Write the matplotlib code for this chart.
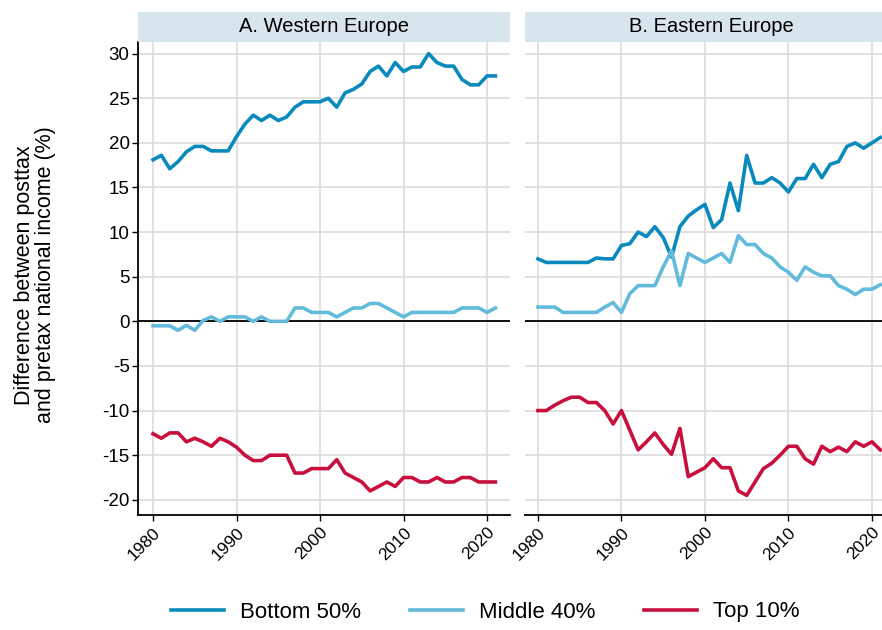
import matplotlib.pyplot as plt
import numpy as np

years = list(range(1980, 2022))

west_bottom50 = [18.1, 18.6, 17.1, 17.9, 19.0, 19.6, 19.6, 19.1, 19.1, 19.1,
                 20.7, 22.1, 23.1, 22.5, 23.1, 22.5, 22.9, 24.0, 24.6, 24.6,
                 24.6, 25.0, 24.0, 25.6, 26.0, 26.6, 28.0, 28.6, 27.5, 29.0,
                 28.0, 28.5, 28.5, 30.0, 29.0, 28.6, 28.6, 27.1, 26.5, 26.5,
                 27.5, 27.5]
west_middle40 = [-0.5, -0.5, -0.5, -1.0, -0.45, -1.0, 0.1, 0.5, 0.0, 0.5,
                 0.5, 0.5, 0.0, 0.5, 0.0, 0.0, 0.0, 1.5, 1.5, 1.0,
                 1.0, 1.0, 0.5, 1.0, 1.5, 1.5, 2.0, 2.0, 1.5, 1.0,
                 0.5, 1.0, 1.0, 1.0, 1.0, 1.0, 1.0, 1.5, 1.5, 1.5,
                 1.0, 1.5]
west_top10 = [-12.6, -13.1, -12.5, -12.5, -13.5, -13.1, -13.5, -14.0, -13.1, -13.5,
              -14.1, -15.0, -15.6, -15.6, -15.0, -15.0, -15.0, -17.0, -17.0, -16.5,
              -16.5, -16.5, -15.5, -17.0, -17.5, -18.0, -19.0, -18.5, -18.0, -18.5,
              -17.5, -17.5, -18.0, -18.0, -17.5, -18.0, -18.0, -17.5, -17.5, -18.0,
              -18.0, -18.0]

east_bottom50 = [7.0, 6.6, 6.6, 6.6, 6.6, 6.6, 6.6, 7.1, 7.0, 7.0,
                 8.5, 8.7, 10.0, 9.5, 10.6, 9.4, 7.2, 10.6, 11.8, 12.5,
                 13.1, 10.5, 11.4, 15.5, 12.4, 18.6, 15.5, 15.5, 16.1, 15.5,
                 14.5, 16.0, 16.0, 17.6, 16.1, 17.6, 17.9, 19.6, 20.0, 19.4,
                 20.0, 20.6]
east_middle40 = [1.6, 1.6, 1.6, 1.0, 1.0, 1.0, 1.0, 1.0, 1.6, 2.1,
                 1.0, 3.1, 4.0, 4.0, 4.0, 6.1, 7.9, 4.0, 7.6, 7.1,
                 6.6, 7.1, 7.6, 6.6, 9.6, 8.6, 8.6, 7.6, 7.1, 6.1,
                 5.5, 4.6, 6.1, 5.5, 5.1, 5.1, 4.0, 3.6, 3.0, 3.6,
                 3.6, 4.1]
east_top10 = [-10.0, -10.0, -9.4, -8.9, -8.5, -8.5, -9.1, -9.1, -10.0, -11.5,
              -10.0, -12.2, -14.4, -13.5, -12.5, -13.8, -14.9, -12.0, -17.4, -16.9,
              -16.4, -15.4, -16.4, -16.4, -19.0, -19.5, -18.0, -16.5, -15.9, -15.0,
              -14.0, -14.0, -15.4, -16.0, -14.0, -14.6, -14.1, -14.6, -13.5, -14.0,
              -13.5, -14.4]

panel_titles = ["A. Western Europe", "B. Eastern Europe"]
series_labels = ["Bottom 50%", "Middle 40%", "Top 10%"]
series_colors = ["#0a8abc", "#62bbdb", "#c8103e"]
y_ticks = [30, 25, 20, 15, 10, 5, 0, -5, -10, -15, -20]
x_ticks = [1980, 1990, 2000, 2010, 2020]


def draw_panel(ax, series, left_label):
    ax.grid(True, color="#dcdcdc", linewidth=1.2)
    ax.set_axisbelow(True)
    ax.axhline(0, color="black", linewidth=1.3, zorder=2)
    for values, label, color in zip(series, series_labels, series_colors):
        ax.plot(years, values, color=color, linewidth=2.6, label=label, zorder=3,
                solid_joinstyle="round")

    ax.set_ylim(-21.7, 31.3)
    ax.set_yticks(y_ticks)
    ax.set_xticks(x_ticks)
    ax.set_xticklabels([str(x) for x in x_ticks], rotation=45, ha="right",
                       rotation_mode="anchor", fontsize=12.5)
    ax.tick_params(axis="x", length=4, width=1, pad=3)

    for side in ["top", "right"]:
        ax.spines[side].set_visible(False)
    ax.spines["bottom"].set_linewidth(1.3)
    if left_label:
        ax.spines["left"].set_linewidth(1.3)
        ax.set_yticklabels([str(y) for y in y_ticks], fontsize=13.5)
        ax.tick_params(axis="y", length=4, width=1, pad=2)
    else:
        ax.spines["left"].set_visible(False)
        ax.tick_params(axis="y", length=0, labelleft=False)


def main():
    plt.rcParams["font.family"] = ["Liberation Sans", "DejaVu Sans"]
    fig = plt.figure(figsize=(8.82, 6.3), dpi=100)

    px = 1 / 882
    py = 1 / 630
    ax1 = fig.add_axes([138 * px, 1 - 515 * py, 372 * px, 473 * py])
    ax2 = fig.add_axes([525 * px, 1 - 515 * py, 372 * px, 473 * py])

    ax1.set_xlim(1978.2, 2022.75)
    ax2.set_xlim(1978.45, 2023.0)

    draw_panel(ax1, [west_bottom50, west_middle40, west_top10], True)
    draw_panel(ax2, [east_bottom50, east_middle40, east_top10], False)

    # strip headers above each panel
    for ax, title in zip((ax1, ax2), panel_titles):
        pos = ax.get_position()
        fig.patches.append(plt.Rectangle((pos.x0, 1 - 42 * py), pos.width, 30 * py,
                                         transform=fig.transFigure,
                                         facecolor="#d9e5ed", edgecolor="none"))
        fig.text(pos.x0 + 186 * px, 1 - 27 * py, title, ha="center", va="center",
                 fontsize=14.5)

    fig.text(0.04, 1 - 275 * py,
             "Difference between posttax\nand pretax national income (%)",
             rotation=90, ha="center", va="center", fontsize=15.5, linespacing=1.0)

    handles, labels = ax1.get_legend_handles_labels()
    fig.legend(handles, labels, loc="center", bbox_to_anchor=(0.55, 1 - 612 * py),
               ncol=3, frameon=False, fontsize=16, handlelength=2.4,
               columnspacing=2.2, handletextpad=0.7)

    fig.savefig("out.png", dpi=100)


main()
